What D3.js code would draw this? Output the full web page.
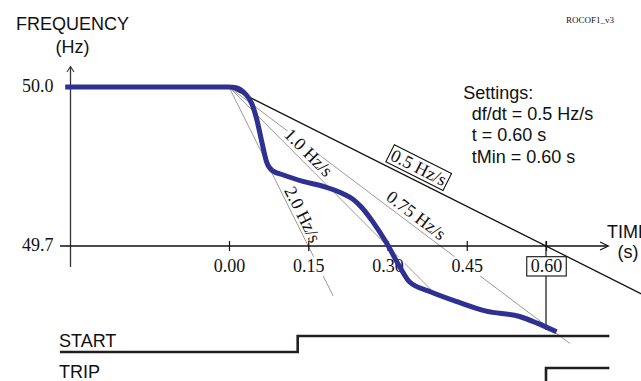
<!DOCTYPE html>
<html><head><meta charset="utf-8">
<script src="https://cdn.jsdelivr.net/npm/d3@7"></script>
<style>body{margin:0;background:#fff}svg{display:block}</style>
</head><body>
<svg id="chart" width="641" height="381"></svg>
<script>
// ---------- data ----------
const xTicks = [0.00, 0.15, 0.30, 0.45, 0.60];
const xTickLabels = ["0.00", "0.15", "0.30", "0.45", "0.60"];
const yTicks = [50.0, 49.7];
const yTickLabels = ["50.0", "49.7"];
// measured frequency trace (s, Hz)
const freqTime  = [-0.31, 0.000, 0.011, 0.030, 0.043, 0.052, 0.062, 0.071, 0.081, 0.103, 0.140, 0.180, 0.215, 0.235, 0.250, 0.272, 0.298, 0.323, 0.342, 0.380, 0.437, 0.487, 0.550, 0.582, 0.620];
const freqValue = [50.0, 50.000, 49.999, 49.988, 49.969, 49.941, 49.897, 49.859, 49.843, 49.834, 49.822, 49.812, 49.799, 49.788, 49.774, 49.746, 49.706, 49.661, 49.632, 49.614, 49.593, 49.577, 49.567, 49.555, 49.538];
// reference slopes
const slopeRates  = [0.5, 0.75, 1.0, 2.0];
const slopeLabels = ["0.5 Hz/s", "0.75 Hz/s", "1.0 Hz/s", "2.0 Hz/s"];
const slopeEndT   = [0.80, 0.645, 0.382, 0.197];
const slopeLabelT = [0.348, 0.343, 0.137, 0.124];
// binary signals
const startTimes  = [-0.32, 0.13, 0.72];
const startValues = [0, 1, 1];
const tripTimes   = [-0.32, 0.60, 0.72];
const tripValues  = [0, 1, 1];
const settingsLines = ["Settings:", "df/dt = 0.5 Hz/s", "t = 0.60 s", "tMin = 0.60 s"];

// ---------- setup ----------
const SANS = '"Liberation Sans", Arial, Helvetica, sans-serif';
const SERIF = '"Liberation Serif", "Times New Roman", Times, serif';
const BLUE = "#2e3192";
const svg = d3.select("#chart");

const x = d3.scaleLinear().domain([0, 0.6]).range([229, 546]);
const y = d3.scaleLinear().domain([49.7, 50.0]).range([246, 87]);

// ---------- slope lines ----------
const slopeG = svg.append("g");
slopeRates.forEach((r, i) => {
  slopeG.append("line")
    .attr("x1", x(0)).attr("y1", y(50))
    .attr("x2", x(slopeEndT[i])).attr("y2", y(50 - r * slopeEndT[i]))
    .attr("stroke", i === 0 ? "#111" : "#9a9a9a")
    .attr("stroke-width", i === 0 ? 1.3 : 1);
});

// slope labels
const offsets = [13, 10, 10, 9];
slopeRates.forEach((r, i) => {
  const t = slopeLabelT[i];
  const px = x(t), py = y(50 - r * t);
  const ang = Math.atan2(y(50 - r) - y(50), x(1) - x(0));
  const nx = Math.sin(ang), ny = -Math.cos(ang);
  const cx = px + nx * offsets[i], cy = py + ny * offsets[i];
  const g = svg.append("g").attr("transform", `translate(${cx},${cy}) rotate(${ang * 180 / Math.PI})`);
  const rect = g.append("rect");
  const txt = g.append("text").attr("text-anchor", "middle").attr("dy", "0.33em")
    .attr("font-family", SERIF).attr("font-size", 18).attr("fill", "#111")
    .text(slopeLabels[i]);
  const bb = txt.node().getBBox();
  if (i === 0) {
    rect.attr("x", bb.x - 2).attr("y", -9.5).attr("width", bb.width + 4).attr("height", 19)
      .attr("fill", "#fff").attr("stroke", "#111").attr("stroke-width", 1.1);
  } else {
    rect.attr("x", bb.x).attr("y", -6).attr("width", bb.width).attr("height", 12).attr("fill", "#fff");
  }
});

// ---------- axes ----------
// y axis
svg.append("line").attr("x1", x(-0.3)).attr("x2", x(-0.3)).attr("y1", 67).attr("y2", 267)
  .attr("stroke", "#333").attr("stroke-width", 1.3);
svg.append("path").attr("d", `M${x(-0.3) - 3.5},72 L${x(-0.3)},66.5 L${x(-0.3) + 3.5},72`)
  .attr("fill", "none").attr("stroke", "#333").attr("stroke-width", 1.1);
const yAxis = d3.axisLeft(y).tickValues(yTicks).tickFormat((d, i) => yTickLabels[i]).tickSize(0);
const yAxisG = svg.append("g").attr("transform", `translate(${x(-0.3)},0)`).call(yAxis);
yAxisG.select(".domain").remove();
yAxisG.selectAll("text").attr("x", -17).attr("dy", "0.27em")
  .attr("font-family", SERIF).attr("font-size", 18).attr("fill", "#111");

// x axis line with arrow
svg.append("line").attr("x1", 60).attr("x2", 608).attr("y1", y(49.7)).attr("y2", y(49.7))
  .attr("stroke", "#111").attr("stroke-width", 1.3);
svg.append("path").attr("d", `M600,${y(49.7) - 4} L608.5,${y(49.7)} L600,${y(49.7) + 4}`)
  .attr("fill", "none").attr("stroke", "#111").attr("stroke-width", 1.1);

// vertical line at 0.60
svg.append("line").attr("x1", x(0.6)).attr("x2", x(0.6)).attr("y1", y(49.7) - 5).attr("y2", 330)
  .attr("stroke", "#111").attr("stroke-width", 1.2);

const xAxis = d3.axisBottom(x).tickValues(xTicks).tickFormat((d, i) => xTickLabels[i]).tickSize(5);
const xAxisG = svg.append("g").attr("transform", `translate(0,${y(49.7)})`).call(xAxis);
xAxisG.select(".domain").remove();
xAxisG.selectAll(".tick line").attr("y1", -5).attr("y2", 5).attr("stroke", "#111").attr("stroke-width", 1.2);
xAxisG.selectAll(".tick text").attr("y", 25.7).attr("dy", 0)
  .attr("font-family", SERIF).attr("font-size", 18).attr("fill", "#111");
xAxisG.selectAll(".tick").each(function (d, i) {
  const tick = d3.select(this);
  const bb = tick.select("text").node().getBBox();
  const boxed = xTickLabels[i] === "0.60";
  tick.insert("rect", "text")
    .attr("x", bb.x - (boxed ? 4 : 1)).attr("y", 10.7)
    .attr("width", bb.width + (boxed ? 8 : 2)).attr("height", 19.3)
    .attr("fill", "#fff")
    .attr("stroke", boxed ? "#111" : "none").attr("stroke-width", 1.1);
});

// ---------- frequency trace ----------
const freqData = freqTime.map((t, i) => [t, freqValue[i]]);
svg.append("path").datum(freqData)
  .attr("d", d3.line().x(d => x(d[0])).y(d => y(d[1])).curve(d3.curveMonotoneX))
  .attr("fill", "none").attr("stroke", BLUE).attr("stroke-width", 5)
  .attr("stroke-linejoin", "round");

// ---------- binary signals ----------
const sigStart = d3.scaleLinear().domain([0, 1]).range([352, 336]);
const sigTrip = d3.scaleLinear().domain([0, 1]).range([384, 368]);
function drawSignal(times, values, sy) {
  svg.append("path").datum(times.map((t, i) => [t, values[i]]))
    .attr("d", d3.line().x(d => x(d[0])).y(d => sy(d[1])).curve(d3.curveStepAfter))
    .attr("fill", "none").attr("stroke", "#231f20").attr("stroke-width", 2.6);
}
drawSignal(startTimes, startValues, sigStart);
drawSignal(tripTimes, tripValues, sigTrip);

// ---------- texts ----------
function txt(s, xx, yy, size, fam, anchor) {
  svg.append("text").attr("x", xx).attr("y", yy).attr("font-size", size)
    .attr("font-family", fam).attr("text-anchor", anchor || "start").attr("fill", "#111").text(s);
}
txt("FREQUENCY", 16, 30, 18, SANS);
txt("(Hz)", 72.5, 53, 18, SANS, "middle");
txt("TIME", 607, 238.3, 18, SANS);
txt("(s)", 628, 257.5, 18, SANS, "middle");
txt("START", 59, 346.7, 18, SANS);
txt("TRIP", 59, 377.5, 18, SANS);
txt("ROCOF1_v3", 566, 22.7, 9, SERIF);
const setY = [99.3, 119.6, 141, 163.3];
settingsLines.forEach((s, i) => txt(s, i === 0 ? 463.3 : 471.7, setY[i], 18, SANS));
</script>
</body></html>
